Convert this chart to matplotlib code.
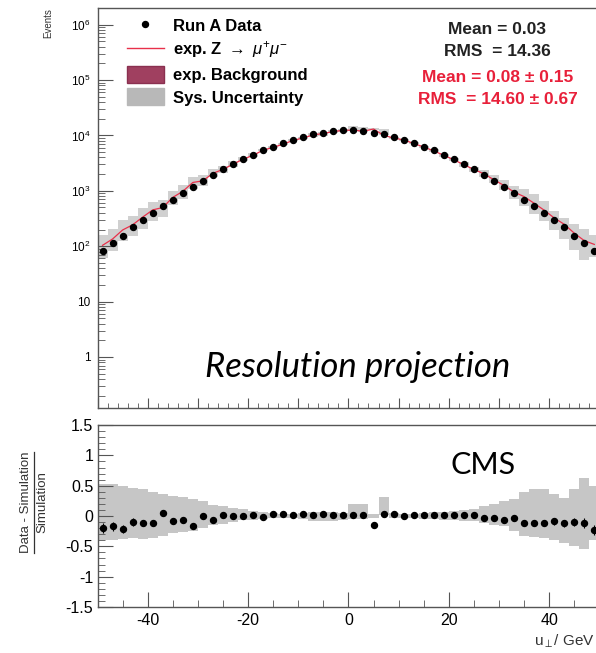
import numpy as np
import matplotlib
matplotlib.use("Agg")
import matplotlib.pyplot as plt
from matplotlib.lines import Line2D
from matplotlib.patches import Patch
from matplotlib.ticker import FixedLocator, FixedFormatter, MultipleLocator, NullFormatter

plt.rcParams['font.family'] = ['Liberation Sans', 'DejaVu Sans']
plt.rcParams['mathtext.fontset'] = 'custom'
plt.rcParams['mathtext.rm'] = 'Liberation Sans'
plt.rcParams['mathtext.it'] = 'Liberation Sans:italic'
plt.rcParams['mathtext.bf'] = 'Liberation Sans:bold'
plt.rcParams['axes.unicode_minus'] = False

# bin centres (2 GeV bins from -50 to 50)
u_bins = [-49, -47, -45, -43, -41, -39, -37, -35, -33, -31,
          -29, -27, -25, -23, -21, -19, -17, -15, -13, -11,
          -9, -7, -5, -3, -1, 1, 3, 5, 7, 9,
          11, 13, 15, 17, 19, 21, 23, 25, 27, 29,
          31, 33, 35, 37, 39, 41, 43, 45, 47, 49]

# events per bin in data
data_counts = [83, 112, 155, 219, 295, 398, 525, 692, 912, 1175,
               1514, 1950, 2455, 3020, 3715, 4467, 5370, 6310, 7244, 8318,
               9333, 10470, 11220, 12020, 12590, 12590, 12020, 11220, 10470, 9333,
               8318, 7244, 6310, 5370, 4467, 3715, 3020, 2455, 1950, 1514,
               1175, 912, 692, 525, 398, 295, 219, 155, 112, 83]

# (data - simulation) / simulation
ratio = [-0.20, -0.17, -0.21, -0.10, -0.12, -0.12, 0.05, -0.09, -0.07, -0.17,
         0.00, -0.06, 0.01, 0.00, 0.00, 0.02, -0.01, 0.04, 0.04, 0.02,
         0.04, 0.02, 0.04, 0.02, 0.02, 0.01, 0.01, -0.14, 0.04, 0.04,
         0.00, 0.01, 0.02, 0.02, 0.02, 0.02, 0.02, 0.01, -0.04, -0.04,
         -0.06, -0.04, -0.12, -0.12, -0.11, -0.09, -0.12, -0.10, -0.11, -0.23]

# systematic uncertainty band (relative), upper and lower edges
sys_up = [0.52, 0.52, 0.50, 0.47, 0.45, 0.40, 0.36, 0.33, 0.32, 0.28,
          0.25, 0.18, 0.16, 0.14, 0.11, 0.08, 0.06, 0.05, 0.04, 0.04,
          0.05, 0.06, 0.07, 0.06, 0.05, 0.20, 0.20, 0.04, 0.32, 0.05,
          0.04, 0.04, 0.05, 0.06, 0.07, 0.08, 0.10, 0.12, 0.16, 0.20,
          0.24, 0.28, 0.40, 0.44, 0.44, 0.36, 0.30, 0.45, 0.63, 0.50]
sys_lo = [-0.40, -0.39, -0.38, -0.36, -0.38, -0.36, -0.33, -0.28, -0.27, -0.24,
          -0.20, -0.15, -0.13, -0.10, -0.07, -0.06, -0.05, -0.04, -0.04, -0.04,
          -0.05, -0.08, -0.09, -0.08, -0.06, -0.05, -0.05, -0.04, 0.02, -0.04,
          -0.04, -0.04, -0.05, -0.05, -0.06, -0.07, -0.08, -0.09, -0.12, -0.14,
          -0.17, -0.25, -0.33, -0.35, -0.36, -0.40, -0.45, -0.50, -0.55, -0.40]

u = np.array(u_bins, dtype=float)
dat = np.array(data_counts, dtype=float)
r = np.array(ratio)
mc = dat / (1 + r)
up = np.array(sys_up)
lo = np.array(sys_lo)
stat = np.sqrt(dat) / mc

band_col = '#c6c6c6'
spine_col = '#555555'

fig = plt.figure(figsize=(5.96, 6.53), dpi=100)
ax1 = fig.add_axes([0.1636, 0.3752, 0.842, 0.6126])
ax2 = fig.add_axes([0.1636, 0.0704, 0.842, 0.2787])

# upper panel
ax1.bar(u, mc * (up - lo), bottom=mc * (1 + lo), width=2, color='#d0d0d0', linewidth=0, zorder=1)
ax1.plot(u, mc, color='#e8304a', lw=0.9, zorder=2)
ax1.plot(u, dat, 'o', color='black', ms=4.3, zorder=3)
ax1.set_yscale('log')
ax1.set_xlim(-50, 50)
ax1.set_ylim(0.12, 2.0e6)
ax1.yaxis.set_major_locator(FixedLocator([1, 10, 100, 1e3, 1e4, 1e5, 1e6]))
ax1.yaxis.set_major_formatter(FixedFormatter(['1', '10', '$10^{2}$', '$10^{3}$', '$10^{4}$', '$10^{5}$', '$10^{6}$']))
ax1.tick_params(axis='y', which='major', direction='in', length=11, width=0.8, labelsize=8.5, color=spine_col, pad=5)
ax1.tick_params(axis='y', which='minor', direction='in', length=5, width=0.6, color=spine_col)
ax1.xaxis.set_major_locator(MultipleLocator(10))
ax1.xaxis.set_minor_locator(MultipleLocator(2))
ax1.xaxis.set_major_formatter(NullFormatter())
ax1.tick_params(axis='x', which='major', direction='in', length=7, width=0.8, color=spine_col)
ax1.tick_params(axis='x', which='minor', direction='in', length=3.5, width=0.6, color=spine_col)

# lower panel
ax2.bar(u, up - lo, bottom=lo, width=2, color=band_col, linewidth=0, zorder=1)
ax2.errorbar(u, r, yerr=stat, fmt='o', color='black', ms=4.3, elinewidth=0.8, capsize=0, zorder=3)
ax2.set_xlim(-50, 50)
ax2.set_ylim(-1.5, 1.5)
ax2.yaxis.set_major_locator(FixedLocator([-1.5, -1, -0.5, 0, 0.5, 1, 1.5]))
ax2.yaxis.set_major_formatter(FixedFormatter(['-1.5', '-1', '-0.5', '0', '0.5', '1', '1.5']))
ax2.yaxis.set_minor_locator(MultipleLocator(0.1))
ax2.xaxis.set_major_locator(MultipleLocator(20))
ax2.xaxis.set_minor_locator(MultipleLocator(5))
ax2.tick_params(axis='both', which='major', direction='in', length=11, width=0.8, labelsize=11.5, color=spine_col)
ax2.tick_params(axis='both', which='minor', direction='in', length=5, width=0.6, color=spine_col)
ax2.tick_params(axis='x', which='major', pad=4)
ax2.tick_params(axis='y', which='major', pad=3)

for ax in (ax1, ax2):
    for s in ax.spines.values():
        s.set_color(spine_col)
        s.set_linewidth(1.0)

# legend
handles = [Line2D([], [], marker='o', ls='none', color='black', ms=4.3),
           Line2D([], [], color='#e8304a', lw=1.0),
           Patch(facecolor='#a04060', edgecolor='#8a3050'),
           Patch(facecolor='#b8b8b8', edgecolor='#b8b8b8')]
labels = ['Run A Data', r'exp. Z $\rightarrow$ $\mu^{+}\mu^{-}$', 'exp. Background', 'Sys. Uncertainty']
leg = ax1.legend(handles, labels, loc='upper left', bbox_to_anchor=(127 / 596, 1 - 17 / 653),
                 bbox_transform=fig.transFigure, frameon=False, borderpad=0, borderaxespad=0,
                 handlelength=2.2, handleheight=1.2, handletextpad=0.55, labelspacing=0.32,
                 prop={'weight': 'bold', 'size': 12})

# statistics boxes
fig.text(497 / 596, 1 - 30 / 653, 'Mean = 0.03', ha='center', va='center', fontsize=12.5, fontweight='bold', color='#222222')
fig.text(497 / 596, 1 - 52 / 653, 'RMS  = 14.36', ha='center', va='center', fontsize=12.5, fontweight='bold', color='#222222')
fig.text(498 / 596, 1 - 78 / 653, 'Mean = 0.08 ± 0.15', ha='center', va='center', fontsize=12.5, fontweight='bold', color='#e8203a')
fig.text(498 / 596, 1 - 100 / 653, 'RMS  = 14.60 ± 0.67', ha='center', va='center', fontsize=12.5, fontweight='bold', color='#e8203a')

# annotations
fig.text(358 / 596, 1 - 367 / 653, 'Resolution projection', ha='center', va='center',
         fontsize=25, style='italic', family=['Lato', 'DejaVu Sans'], color='black')
fig.text(483 / 596, 1 - 465 / 653, 'CMS', ha='center', va='center',
         fontsize=22, family=['Lato', 'DejaVu Sans'], color='black')

# axis titles
fig.text(48 / 596, 1 - 8 / 653, 'Events', rotation=90, ha='center', va='top', fontsize=7, color='#333333')
fig.text(0.998, 1 - 641 / 653, r'u$_{\perp}$/ GeV', ha='right', va='center', fontsize=11, color='#333333')
fig.text(26 / 596, 1 - 502 / 653, 'Data - Simulation', rotation=90, ha='center', va='center', fontsize=9.5, color='#333333')
fig.text(42 / 596, 1 - 502 / 653, 'Simulation', rotation=90, ha='center', va='center', fontsize=9.5, color='#333333')
fig.add_artist(Line2D([34 / 596, 34 / 596], [1 - 452 / 653, 1 - 553 / 653], transform=fig.transFigure,
                      color='#333333', lw=0.9))

fig.savefig('out.png', dpi=100)
